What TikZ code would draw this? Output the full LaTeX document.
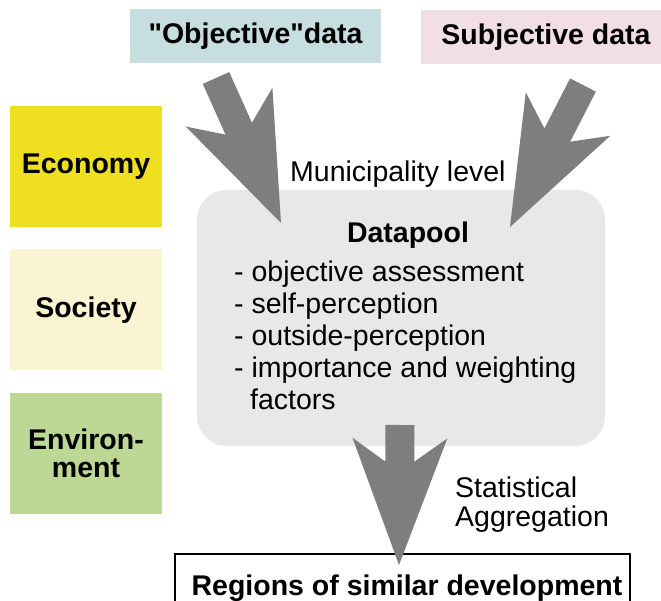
\documentclass[tikz,border=0pt]{standalone}
\usepackage{fontspec}
\setmainfont{Liberation Sans}
\usetikzlibrary{arrows.meta, positioning}

\definecolor{objcol}{RGB}{198,222,224}
\definecolor{subjcol}{RGB}{242,223,228}
\definecolor{ecocol}{RGB}{239,223,33}
\definecolor{soccol}{RGB}{250,244,211}
\definecolor{envcol}{RGB}{189,215,148}
\definecolor{poolcol}{RGB}{232,232,232}
\definecolor{arrowgray}{RGB}{125,126,125}

\begin{document}
\begin{tikzpicture}[
  x=1pt, y=-1pt,
  every node/.style={font=\fontsize{28.5}{32}\selectfont, inner sep=0pt},
  databox/.style={font=\fontsize{28.5}{32}\selectfont\bfseries, minimum width=251pt, minimum height=54pt},
  topic/.style={font=\fontsize{28.5}{28}\selectfont\bfseries, align=center, minimum width=152pt, minimum height=121pt},
  pool/.style={fill=poolcol, rounded corners=30pt, minimum width=408pt, minimum height=256pt},
  bigarrow/.style={line width=29pt, draw=arrowgray, -{Stealth[length=127pt, width=95pt, inset=34pt, line width=0pt]}}
]
\useasboundingbox (0,0) rectangle (661,601);

\node[databox, fill=objcol] (obj) at (255.5,36) {\textquotedbl Objective\textquotedbl data};
\node[databox, fill=subjcol, minimum width=250pt] (subj) at (546,37.5) {Subjective data};

\node[topic, fill=ecocol] (eco) at (86,166.5) {Economy};
\node[topic, fill=soccol, below=22pt of eco] (soc) {Society};
\node[topic, fill=envcol, below=22pt of soc] (env) {Environ-\\ment};

\node[pool] (pool) at (401,318) {};
\node[anchor=base, font=\fontsize{28.5}{32}\selectfont\bfseries] (pooltitle) at (408,243) {Datapool};
\node[anchor=north west, align=left] (poollist) at (234,261)
  {- objective assessment\\- self-perception\\- outside-perception\\- importance and weighting\\\hspace*{16pt}factors};

\node[anchor=base west] (munlevel) at (290,182) {Municipality level};
\node[anchor=north west, align=left, font=\fontsize{28.5}{29.5}\selectfont] (statagg) at (455,476.5) {Statistical\\Aggregation};

\node[draw, line width=2pt, minimum width=455pt, minimum height=60pt, anchor=north,
  text height=28pt, text depth=6pt, font=\fontsize{28.5}{32}\selectfont\bfseries] (regions) at (402.5,553)
  {\hspace*{9pt}Regions of similar development};

\coordinate (objtail) at (216,78);
\coordinate (objtip) at (281,223);
\coordinate (subjtail) at (583,85);
\coordinate (subjtip) at (510,227);
\coordinate (pooltail) at (400,425);
\coordinate (pooltip) at (399,565);

\draw[bigarrow] (objtail) -- (objtip);
\draw[bigarrow] (subjtail) -- (subjtip);
\draw[bigarrow] (pooltail) -- (pooltip);
\end{tikzpicture}
\end{document}
